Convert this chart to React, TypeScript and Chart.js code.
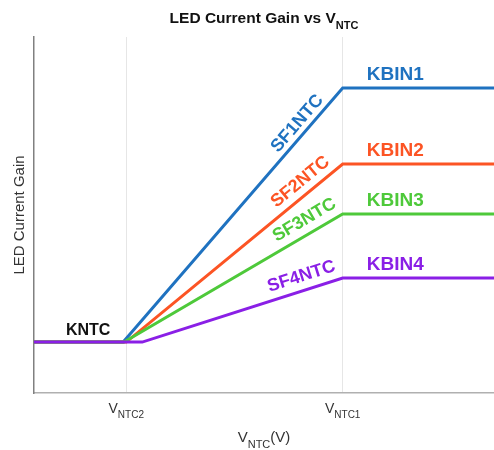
import React, { useEffect, useRef } from "react";
import { Chart, registerables } from "chart.js";

Chart.register(...registerables);

// ---- data ----
const seriesNames = ["SF1NTC", "SF2NTC", "SF3NTC", "SF4NTC"];
const kbinNames = ["KBIN1", "KBIN2", "KBIN3", "KBIN4"];
const seriesColors = ["#1f72c0", "#fc5424", "#4ec93a", "#8a1fe6"];
const xMin = 0.574;
const xMax = 2.699;
const xTickValues = [1, 2];
const xTickSubs = ["NTC2", "NTC1"];
const breakStart = [0.986, 1.0, 0.99, 1.074]; // where each line starts rising
const breakEnd = [2, 2, 2, 2]; // V_NTC1
const baseGain = 0.143; // KNTC
const kbinGain = [0.857, 0.643, 0.503, 0.323];
const slopeLabelX = [1.829, 1.843, 1.856, 1.829];
const kntcLabelX = 0.824;
const kbinLabelX = 2.111;

const FONT = '"Liberation Sans", Arial, sans-serif';

function buildData(i: number) {
  return [
    { x: xMin, y: baseGain },
    { x: breakStart[i], y: baseGain },
    { x: breakEnd[i], y: kbinGain[i] },
    { x: xMax, y: kbinGain[i] },
  ];
}

const slopeOffsets = [11, 13, 14, 14];

const annotPlugin = {
  id: "annot",
  afterDatasetsDraw(chart: any) {
    const ctx = chart.ctx;
    const xs = chart.scales.x;
    const ys = chart.scales.y;
    ctx.save();
    // KNTC
    ctx.font = `bold 16px ${FONT}`;
    ctx.fillStyle = "#111";
    ctx.textAlign = "center";
    ctx.textBaseline = "middle";
    ctx.fillText("KNTC", xs.getPixelForValue(kntcLabelX), ys.getPixelForValue(baseGain) - 11);
    // KBIN labels
    ctx.font = `bold 19px ${FONT}`;
    ctx.textAlign = "left";
    for (let i = 0; i < 4; i++) {
      ctx.fillStyle = seriesColors[i];
      ctx.fillText(kbinNames[i], xs.getPixelForValue(kbinLabelX), ys.getPixelForValue(kbinGain[i]) - 13);
    }
    // slope labels
    ctx.font = `bold 18px ${FONT}`;
    ctx.textAlign = "center";
    for (let i = 0; i < 4; i++) {
      const x0 = xs.getPixelForValue(breakStart[i]);
      const y0 = ys.getPixelForValue(baseGain);
      const x1 = xs.getPixelForValue(breakEnd[i]);
      const y1 = ys.getPixelForValue(kbinGain[i]);
      const ang = Math.atan2(y1 - y0, x1 - x0);
      const cx = xs.getPixelForValue(slopeLabelX[i]);
      const t = (cx - x0) / (x1 - x0);
      const cy = y0 + t * (y1 - y0);
      ctx.save();
      ctx.translate(cx, cy);
      ctx.rotate(ang);
      ctx.fillStyle = seriesColors[i];
      ctx.fillText(seriesNames[i], 0, -slopeOffsets[i]);
      ctx.restore();
    }
    ctx.restore();
  },
  afterDraw(chart: any) {
    const ctx = chart.ctx;
    const xs = chart.scales.x;
    const ca = chart.chartArea;
    ctx.save();
    ctx.textBaseline = "alphabetic";
    ctx.textAlign = "left";
    // Title
    const t1 = "LED Current Gain vs V";
    const t2 = "NTC";
    ctx.font = `bold 15.5px ${FONT}`;
    const w1 = ctx.measureText(t1).width;
    ctx.font = `bold 11px ${FONT}`;
    const w2 = ctx.measureText(t2).width;
    const tx = (ca.left + ca.right) / 2 - (w1 + w2) / 2;
    ctx.fillStyle = "#111";
    ctx.font = `bold 15.5px ${FONT}`;
    ctx.fillText(t1, tx, 23);
    ctx.font = `bold 11px ${FONT}`;
    ctx.fillText(t2, tx + w1, 29);

    // x tick labels
    ctx.fillStyle = "#333";
    for (let i = 0; i < xTickValues.length; i++) {
      const px = xs.getPixelForValue(xTickValues[i]);
      ctx.font = `14px ${FONT}`;
      const a = ctx.measureText("V").width;
      ctx.font = `10px ${FONT}`;
      const b = ctx.measureText(xTickSubs[i]).width;
      const sx = px - (a + b) / 2;
      ctx.font = `14px ${FONT}`;
      ctx.fillText("V", sx, ca.bottom + 20);
      ctx.font = `10px ${FONT}`;
      ctx.fillText(xTickSubs[i], sx + a, ca.bottom + 25);
    }

    // x axis title
    {
      ctx.font = `15px ${FONT}`;
      const a = ctx.measureText("V").width;
      const c = ctx.measureText("(V)").width;
      ctx.font = `11px ${FONT}`;
      const b = ctx.measureText("NTC").width;
      const sx = (ca.left + ca.right) / 2 - (a + b + c) / 2;
      ctx.font = `15px ${FONT}`;
      ctx.fillText("V", sx, ca.bottom + 49);
      ctx.font = `11px ${FONT}`;
      ctx.fillText("NTC", sx + a, ca.bottom + 55);
      ctx.font = `15px ${FONT}`;
      ctx.fillText("(V)", sx + a + b, ca.bottom + 49);
    }

    // y axis title
    ctx.save();
    ctx.translate(24, (ca.top + ca.bottom) / 2);
    ctx.rotate(-Math.PI / 2);
    ctx.textAlign = "center";
    ctx.font = `15px ${FONT}`;
    ctx.fillStyle = "#333";
    ctx.fillText("LED Current Gain", 0, 0);
    ctx.restore();
    ctx.restore();
  },
};

export default function App() {
  const ref = useRef<HTMLCanvasElement>(null);
  useEffect(() => {
    if (!ref.current) return;
    const order = [3, 2, 1, 0];
    const chart = new Chart(ref.current, {
      type: "line",
      data: {
        datasets: seriesNames.map((name, i) => ({
          label: name,
          data: buildData(i),
          borderColor: seriesColors[i],
          backgroundColor: seriesColors[i],
          borderWidth: 3,
          pointRadius: 0,
          tension: 0,
          fill: false,
          order: order[i],
        })),
      },
      options: {
        animation: false,
        responsive: false,
        maintainAspectRatio: false,
        layout: { padding: { left: 34, right: 0, top: 37, bottom: 57 } },
        plugins: {
          legend: { display: false },
          title: { display: false },
          tooltip: { enabled: false },
        },
        scales: {
          x: {
            type: "linear",
            min: xMin,
            max: xMax,
            afterBuildTicks: (scale: any) => {
              scale.ticks = xTickValues.map((v) => ({ value: v }));
            },
            ticks: { display: false },
            grid: { color: "#e6e6e6", lineWidth: 1, drawTicks: false },
            border: { color: "#b0b0b0", width: 1.5 },
          },
          y: {
            type: "linear",
            min: 0,
            max: 1,
            ticks: { display: false },
            grid: { display: false, drawTicks: false },
            border: { color: "#808080", width: 1.5 },
          },
        },
      },
      plugins: [annotPlugin],
    });
    return () => chart.destroy();
  }, []);
  return (
    <div style={{ position: "fixed", left: 0, top: 0, width: 494, height: 450, background: "#fff" }}>
      <canvas ref={ref} width={494} height={450} />
    </div>
  );
}
